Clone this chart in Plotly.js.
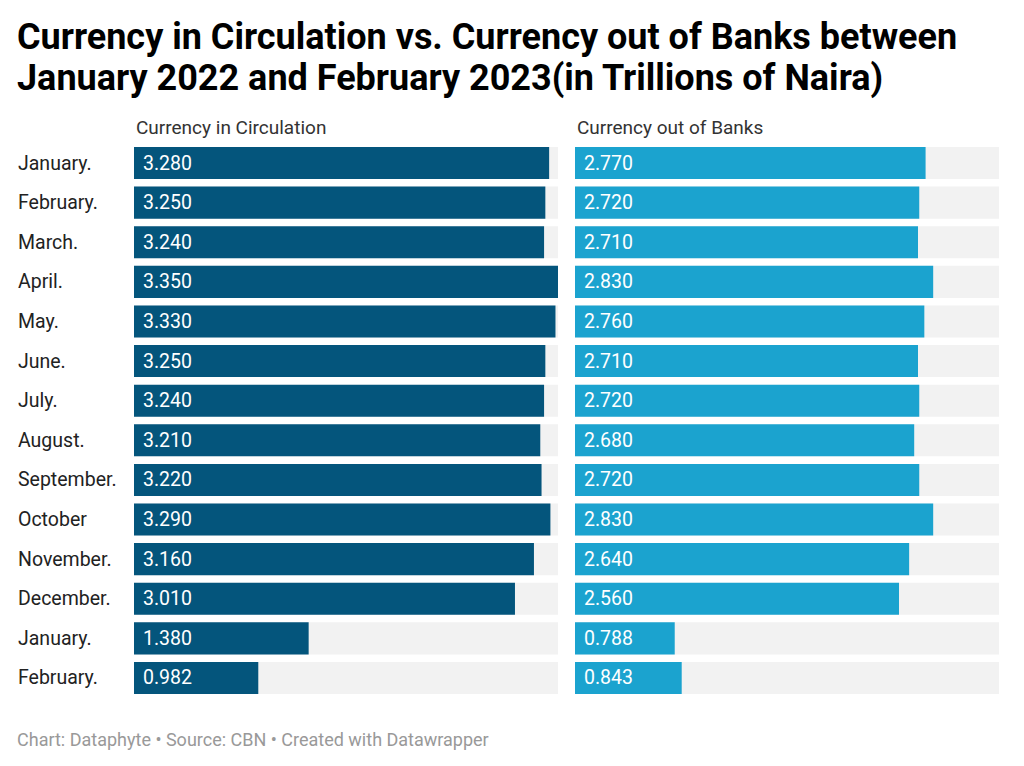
<!DOCTYPE html>
<html>
<head>
<meta charset="utf-8">
<script src="https://cdn.plot.ly/plotly-3.0.1.min.js"></script>
<style>
  html, body { margin: 0; padding: 0; background: #ffffff; }
  #chart { width: 1024px; height: 766px; }
</style>
</head>
<body>
<div id="chart"></div>
<script>
// === Datos ===
const months = ['January.', 'February.', 'March.', 'April.', 'May.', 'June.', 'July.',
  'August.', 'September.', 'October', 'November.', 'December.', 'January.', 'February.'];
const circulation = [3.28, 3.25, 3.24, 3.35, 3.33, 3.25, 3.24, 3.21, 3.22, 3.29, 3.16, 3.01, 1.38, 0.982];
const outOfBanks = [2.77, 2.72, 2.71, 2.83, 2.76, 2.71, 2.72, 2.68, 2.72, 2.83, 2.64, 2.56, 0.788, 0.843];
const seriesNames = ['Currency in Circulation', 'Currency out of Banks'];
const titleLines = ['Currency in Circulation vs. Currency out of Banks between',
  'January 2022 and February 2023(in Trillions of Naira)'];

const COLOR_DARK = '#04557c';
const COLOR_LIGHT = '#1ba3cf';
const COLOR_TRACK = '#f2f2f2';
const FONT = 'Roboto, "Noto Sans", sans-serif';

const rows = months.map((m, i) => i);
const xMax = Math.max(...circulation, ...outOfBanks);

// === Trazas ===
const traces = [];
const panels = [
  { values: circulation, color: COLOR_DARK, xa: 'x', ya: 'y' },
  { values: outOfBanks, color: COLOR_LIGHT, xa: 'x2', ya: 'y2' }
];

panels.forEach(p => {
  // fondo gris de cada fila
  traces.push({
    type: 'bar', orientation: 'h',
    x: rows.map(() => xMax), y: rows,
    xaxis: p.xa, yaxis: p.ya,
    marker: { color: COLOR_TRACK },
    hoverinfo: 'skip', showlegend: false
  });
  traces.push({
    type: 'bar', orientation: 'h',
    x: p.values, y: rows,
    xaxis: p.xa, yaxis: p.ya,
    marker: { color: p.color },
    showlegend: false
  });
});

// === Anotaciones ===
const annotations = [];

// título en dos líneas
titleLines.forEach((t, i) => {
  annotations.push({
    xref: 'paper', yref: 'paper', x: 15 / 1024, y: 1 - (37 + 41 * i) / 766,
    xanchor: 'left', yanchor: 'middle', showarrow: false,
    text: '<b>' + t + '</b>', font: { family: FONT, size: 36, color: '#000000' }
  });
});

months.forEach((m, i) => {
  annotations.push({
    xref: 'paper', yref: 'y', x: 16 / 1024, y: i,
    xanchor: 'left', yanchor: 'middle', showarrow: false,
    text: m, font: { family: FONT, size: 19.5, color: '#222222' }
  });
});

panels.forEach(p => {
  p.values.forEach((v, i) => {
    annotations.push({
      xref: p.xa, yref: p.ya, x: 0, y: i, xshift: 7,
      xanchor: 'left', yanchor: 'middle', showarrow: false,
      text: v.toFixed(3), font: { family: FONT, size: 19.5, color: '#ffffff' }
    });
  });
});

// encabezados de columna
[['x domain', seriesNames[0]], ['x2 domain', seriesNames[1]]].forEach(([ref, t]) => {
  annotations.push({
    xref: ref, yref: 'paper', x: 0, y: 1 - 127 / 766,
    xanchor: 'left', yanchor: 'middle', showarrow: false,
    text: t, font: { family: FONT, size: 19, color: '#333333' }
  });
});

// pie de gráfico
annotations.push({
  xref: 'paper', yref: 'paper', x: 15 / 1024, y: 1 - 739 / 766,
  xanchor: 'left', yanchor: 'middle', showarrow: false,
  text: 'Chart: Dataphyte • Source: CBN • Created with Datawrapper',
  font: { family: FONT, size: 18, color: '#999999' }
});

const yDomain = [1 - 697.8 / 766, 1 - 143.2 / 766];
const yAxis = {
  domain: yDomain, range: [13.5, -0.5],
  showticklabels: false, showgrid: false, zeroline: false, ticks: ''
};
const xAxisBase = {
  range: [0, xMax], showticklabels: false, showgrid: false, zeroline: false,
  ticks: '', fixedrange: true
};

const layout = {
  width: 1024, height: 766,
  margin: { l: 0, r: 0, t: 0, b: 0 },
  paper_bgcolor: '#ffffff', plot_bgcolor: 'rgba(0,0,0,0)',
  barmode: 'overlay', bargap: 0.19,
  xaxis: Object.assign({}, xAxisBase, { domain: [134 / 1024, 558 / 1024] }),
  xaxis2: Object.assign({}, xAxisBase, { domain: [575 / 1024, 999 / 1024], anchor: 'y2' }),
  yaxis: Object.assign({}, yAxis, { anchor: 'x' }),
  yaxis2: Object.assign({}, yAxis, { anchor: 'x2' }),
  annotations: annotations,
  showlegend: false
};

Plotly.newPlot('chart', traces, layout, { displayModeBar: false, staticPlot: true });
</script>
</body>
</html>
